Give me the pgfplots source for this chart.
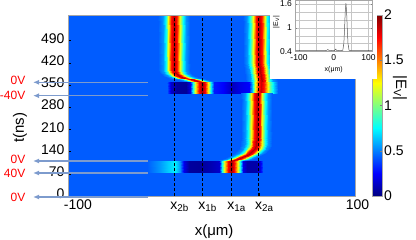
\documentclass[border=0pt]{standalone}
\usepackage{pgfplots}
\pgfplotsset{compat=1.18}
\usepackage{fontspec}
\setmainfont{Liberation Sans}
\usetikzlibrary{arrows.meta}
\definecolor{arrowblue}{RGB}{125,155,205}
\newcommand{\tickfont}{\fontsize{14}{14}\selectfont}
\newcommand{\labfont}{\fontsize{15}{15}\selectfont}
\begin{document}
\begin{tikzpicture}
\useasboundingbox (0pt,0pt) rectangle (416pt,-240pt);
\begin{axis}[
  at={(68pt,-196pt)}, anchor=south west,
  scale only axis, width=287pt, height=181pt,
  xmin=-100, xmax=100, ymin=0, ymax=570,
  enlargelimits=false,
  axis on top,
  colormap/jet, point meta min=0, point meta max=2,
  xtick={-100,-26,-6.6,13.6,33,100},
  xticklabels={\hspace{20pt}-100,\hspace{11pt}x\textsubscript{2b},\hspace{11pt}x\textsubscript{1b},\hspace{11pt}x\textsubscript{1a},\hspace{11pt}x\textsubscript{2a},\hspace{5pt}100},
  ytick={0,70,140,210,280,350,420,490},
  yticklabels={0,70,140,210,280,350,420,490},
  tick label style={font=\tickfont},
  typeset ticklabels with strut,
  xtick pos=bottom, ytick pos=left,
  tick align=inside, major tick length=3pt,
  tick style={black},
  axis line style={gray!70},
  xlabel={x(μm)}, ylabel={t(ns)},
  label style={font=\labfont},
  xlabel style={at={(axis description cs:0.509,-0.199)}, anchor=center},
  ylabel style={at={(axis description cs:-0.167,0.376)}, anchor=center},
]
% background
\addplot[surf, shader=interp, point meta=explicit, mesh/cols=2]
  table[row sep=\\, x=x, y=t, meta=v] {
x t v\\
-100 0 0.43\\ 100 0 0.43\\
-100 570 0.43\\ 100 570 0.43\\
};
% +40V band
\addplot[surf, shader=interp, point meta=explicit, mesh/cols=24]
  table[row sep=\\, x=x, y=t, meta=v] {
x t v\\
-100 73 0.43\\ -45 73 0.43\\ -36 73 0.55\\ -30 73 0.65\\ -25.5 73 0.72\\ -22 73 0.55\\ -19 73 0.2\\ -16 73 0.06\\ -8 73 0.05\\ 0 73 0.1\\ 5 73 0.15\\ 7.5 73 0.8\\ 9.5 73 1.35\\ 11.5 73 1.75\\ 13.6 73 1.95\\ 15.7 73 1.75\\ 17.7 73 1.35\\ 19.7 73 0.8\\ 22 73 0.2\\ 25 73 0.08\\ 31 73 0.08\\ 33.5 73 0.2\\ 36 73 0.43\\ 100 73 0.43\\
-100 111 0.43\\ -45 111 0.43\\ -36 111 0.55\\ -30 111 0.65\\ -25.5 111 0.72\\ -22 111 0.55\\ -19 111 0.2\\ -16 111 0.06\\ -8 111 0.05\\ 0 111 0.1\\ 5 111 0.15\\ 7.5 111 0.8\\ 9.5 111 1.35\\ 11.5 111 1.75\\ 13.6 111 1.95\\ 15.7 111 1.75\\ 17.7 111 1.35\\ 19.7 111 0.8\\ 22 111 0.2\\ 25 111 0.08\\ 31 111 0.08\\ 33.5 111 0.2\\ 36 111 0.43\\ 100 111 0.43\\
};
% -40V band
\addplot[surf, shader=interp, point meta=explicit, mesh/cols=28]
  table[row sep=\\, x=x, y=t, meta=v] {
x t v\\
-100 323 0.43\\ -31 323 0.43\\ -28 323 0.15\\ -24 323 0.06\\ -18 323 0.05\\ -15 323 0.2\\ -13 323 0.8\\ -11 323 1.35\\ -9 323 1.75\\ -6.6 323 1.95\\ -4.2 323 1.75\\ -2.2 323 1.3\\ -0.2 323 0.7\\ 2 323 0.3\\ 8 323 0.25\\ 14 323 0.12\\ 20 323 0.2\\ 26 323 0.25\\ 28.5 323 0.6\\ 30.5 323 1.2\\ 32.5 323 1.65\\ 34.5 323 1.85\\ 36.5 323 1.7\\ 38.5 323 1.35\\ 41 323 0.95\\ 43.5 323 0.65\\ 46 323 0.43\\ 100 323 0.43\\
-100 360 0.43\\ -31 360 0.43\\ -28 360 0.15\\ -24 360 0.06\\ -18 360 0.05\\ -15 360 0.2\\ -13 360 0.8\\ -11 360 1.35\\ -9 360 1.75\\ -6.6 360 1.95\\ -4.2 360 1.75\\ -2.2 360 1.3\\ -0.2 360 0.7\\ 2 360 0.3\\ 8 360 0.25\\ 14 360 0.12\\ 20 360 0.2\\ 26 360 0.25\\ 28.5 360 0.6\\ 30.5 360 1.2\\ 32.5 360 1.65\\ 34.5 360 1.85\\ 36.5 360 1.7\\ 38.5 360 1.35\\ 41 360 0.95\\ 43.5 360 0.65\\ 46 360 0.43\\ 100 360 0.43\\
};
% line x1a -> x2a (between pulses)
\addplot[surf, shader=interp, point meta=explicit, mesh/cols=11]
  table[row sep=\\, x=x, y=t, meta=v] {
x t v\\
2.6 111 0.43\\ 5.6 111 0.54\\ 7.6 111 0.78\\ 9.6 111 1.21\\ 11.6 111 1.7\\ 13.6 111 1.9\\ 15.6 111 1.7\\ 17.6 111 1.21\\ 19.6 111 0.78\\ 21.6 111 0.54\\ 24.6 111 0.43\\
4.5 114 0.43\\ 7.5 114 0.54\\ 9.5 114 0.78\\ 11.5 114 1.21\\ 13.5 114 1.7\\ 15.5 114 1.9\\ 17.5 114 1.7\\ 19.5 114 1.21\\ 21.5 114 0.78\\ 23.5 114 0.54\\ 26.5 114 0.43\\
7.5 118 0.43\\ 10.5 118 0.54\\ 12.5 118 0.78\\ 14.5 118 1.21\\ 16.5 118 1.7\\ 18.5 118 1.9\\ 20.5 118 1.7\\ 22.5 118 1.21\\ 24.5 118 0.78\\ 26.5 118 0.54\\ 29.5 118 0.43\\
10.5 123 0.43\\ 13.5 123 0.54\\ 15.5 123 0.78\\ 17.5 123 1.21\\ 19.5 123 1.7\\ 21.5 123 1.9\\ 23.5 123 1.7\\ 25.5 123 1.21\\ 27.5 123 0.78\\ 29.5 123 0.54\\ 32.5 123 0.43\\
13.5 129 0.43\\ 16.5 129 0.54\\ 18.5 129 0.78\\ 20.5 129 1.21\\ 22.5 129 1.7\\ 24.5 129 1.9\\ 26.5 129 1.7\\ 28.5 129 1.21\\ 30.5 129 0.78\\ 32.5 129 0.54\\ 35.5 129 0.43\\
16 136 0.43\\ 19 136 0.54\\ 21 136 0.78\\ 23 136 1.21\\ 25 136 1.7\\ 27 136 1.9\\ 29 136 1.7\\ 31 136 1.21\\ 33 136 0.78\\ 35 136 0.54\\ 38 136 0.43\\
18 144 0.43\\ 21 144 0.54\\ 23 144 0.78\\ 25 144 1.21\\ 27 144 1.7\\ 29 144 1.9\\ 31 144 1.7\\ 33 144 1.21\\ 35 144 0.78\\ 37 144 0.54\\ 40 144 0.43\\
19.3 152 0.43\\ 22.3 152 0.54\\ 24.3 152 0.78\\ 26.3 152 1.21\\ 28.3 152 1.7\\ 30.3 152 1.9\\ 32.3 152 1.7\\ 34.3 152 1.21\\ 36.3 152 0.78\\ 38.3 152 0.54\\ 41.3 152 0.43\\
20.2 165 0.43\\ 23.2 165 0.54\\ 25.2 165 0.78\\ 27.2 165 1.21\\ 29.2 165 1.7\\ 31.2 165 1.9\\ 33.2 165 1.7\\ 35.2 165 1.21\\ 37.2 165 0.78\\ 39.2 165 0.54\\ 42.2 165 0.43\\
20.5 185 0.43\\ 23.5 185 0.54\\ 25.5 185 0.78\\ 27.5 185 1.21\\ 29.5 185 1.7\\ 31.5 185 1.9\\ 33.5 185 1.7\\ 35.5 185 1.21\\ 37.5 185 0.78\\ 39.5 185 0.54\\ 42.5 185 0.43\\
20.5 323 0.43\\ 23.5 323 0.54\\ 25.5 323 0.78\\ 27.5 323 1.21\\ 29.5 323 1.7\\ 31.5 323 1.9\\ 33.5 323 1.7\\ 35.5 323 1.21\\ 37.5 323 0.78\\ 39.5 323 0.54\\ 42.5 323 0.43\\
};
% line at x2a after second pulse
\addplot[surf, shader=interp, point meta=explicit, mesh/cols=11]
  table[row sep=\\, x=x, y=t, meta=v] {
x t v\\
24 360 0.43\\ 27 360 0.54\\ 29 360 0.78\\ 31 360 1.21\\ 33 360 1.7\\ 35 360 1.9\\ 37 360 1.7\\ 39 360 1.21\\ 41 360 0.78\\ 43 360 0.54\\ 46 360 0.43\\
23.5 375 0.43\\ 26.5 375 0.54\\ 28.5 375 0.78\\ 30.5 375 1.21\\ 32.5 375 1.7\\ 34.5 375 1.9\\ 36.5 375 1.7\\ 38.5 375 1.21\\ 40.5 375 0.78\\ 42.5 375 0.54\\ 45.5 375 0.43\\
22.8 395 0.43\\ 25.8 395 0.54\\ 27.8 395 0.78\\ 29.8 395 1.21\\ 31.8 395 1.7\\ 33.8 395 1.9\\ 35.8 395 1.7\\ 37.8 395 1.21\\ 39.8 395 0.78\\ 41.8 395 0.54\\ 44.8 395 0.43\\
22 420 0.43\\ 25 420 0.54\\ 27 420 0.78\\ 29 420 1.21\\ 31 420 1.7\\ 33 420 1.9\\ 35 420 1.7\\ 37 420 1.21\\ 39 420 0.78\\ 41 420 0.54\\ 44 420 0.43\\
22 570 0.43\\ 25 570 0.54\\ 27 570 0.78\\ 29 570 1.21\\ 31 570 1.7\\ 33 570 1.9\\ 35 570 1.7\\ 37 570 1.21\\ 39 570 0.78\\ 41 570 0.54\\ 44 570 0.43\\
};
% line x1b -> x2b
\addplot[surf, shader=interp, point meta=explicit, mesh/cols=11]
  table[row sep=\\, x=x, y=t, meta=v] {
x t v\\
-17.6 360 0.43\\ -14.6 360 0.54\\ -12.6 360 0.78\\ -10.6 360 1.21\\ -8.6 360 1.7\\ -6.6 360 1.9\\ -4.6 360 1.7\\ -2.6 360 1.21\\ -0.6 360 0.78\\ 1.4 360 0.54\\ 4.4 360 0.43\\
-21 363 0.43\\ -18 363 0.54\\ -16 363 0.78\\ -14 363 1.21\\ -12 363 1.7\\ -10 363 1.9\\ -8 363 1.7\\ -6 363 1.21\\ -4 363 0.78\\ -2 363 0.54\\ 1 363 0.43\\
-25.5 367 0.43\\ -22.5 367 0.54\\ -20.5 367 0.78\\ -18.5 367 1.21\\ -16.5 367 1.7\\ -14.5 367 1.9\\ -12.5 367 1.7\\ -10.5 367 1.21\\ -8.5 367 0.78\\ -6.5 367 0.54\\ -3.5 367 0.43\\
-30 372 0.43\\ -27 372 0.54\\ -25 372 0.78\\ -23 372 1.21\\ -21 372 1.7\\ -19 372 1.9\\ -17 372 1.7\\ -15 372 1.21\\ -13 372 0.78\\ -11 372 0.54\\ -8 372 0.43\\
-33.5 378 0.43\\ -30.5 378 0.54\\ -28.5 378 0.78\\ -26.5 378 1.21\\ -24.5 378 1.7\\ -22.5 378 1.9\\ -20.5 378 1.7\\ -18.5 378 1.21\\ -16.5 378 0.78\\ -14.5 378 0.54\\ -11.5 378 0.43\\
-36 386 0.43\\ -33 386 0.54\\ -31 386 0.78\\ -29 386 1.21\\ -27 386 1.7\\ -25 386 1.9\\ -23 386 1.7\\ -21 386 1.21\\ -19 386 0.78\\ -17 386 0.54\\ -14 386 0.43\\
-37 396 0.43\\ -34 396 0.54\\ -32 396 0.78\\ -30 396 1.21\\ -28 396 1.7\\ -26 396 1.9\\ -24 396 1.7\\ -22 396 1.21\\ -20 396 0.78\\ -18 396 0.54\\ -15 396 0.43\\
-37 570 0.43\\ -34 570 0.54\\ -32 570 0.78\\ -30 570 1.21\\ -28 570 1.7\\ -26 570 1.9\\ -24 570 1.7\\ -22 570 1.21\\ -20 570 0.78\\ -18 570 0.54\\ -15 570 0.43\\
};
% dashed reference lines
\addplot[black, line width=0.9pt, dash pattern=on 3pt off 2pt] coordinates {(-26,0) (-26,570)};
\addplot[black, line width=0.9pt, dash pattern=on 3pt off 2pt] coordinates {(-6.6,0) (-6.6,570)};
\addplot[black, line width=0.9pt, dash pattern=on 3pt off 2pt] coordinates {(13.6,0) (13.6,570)};
\addplot[black, line width=0.9pt, dash pattern=on 3pt off 2pt] coordinates {(33,0) (33,570)};
\end{axis}

% colour scale
\begin{axis}[
  at={(372.3pt,-196pt)}, anchor=south west,
  scale only axis, width=9.4pt, height=181pt,
  xmin=0, xmax=1, ymin=0, ymax=2, enlargelimits=false,
  axis on top,
  colormap/jet, point meta min=0, point meta max=2,
  xtick=\empty,
  ytick={0,0.5,1,1.5,2}, yticklabels={0,0.5,1,1.5,2},
  ytick pos=right, yticklabel pos=right,
  yticklabel style={font=\tickfont, xshift=-1pt},
  tick align=inside, major tick length=2pt,
  axis line style={gray!70},
]
\addplot[surf, shader=interp, point meta=explicit, mesh/cols=2]
  table[row sep=\\, x=x, y=y, meta=v] {
x y v\\
0 0 0\\ 1 0 0\\
0 2 2\\ 1 2 2\\
};
\end{axis}

% white box behind inset
\fill[white] (270pt,0pt) rectangle (377pt,-79pt);

\begin{axis}[
  at={(295.5pt,-51.5pt)}, anchor=south west,
  scale only axis, width=76.5pt, height=51.5pt,
  xmin=-110, xmax=110, ymin=0.4, ymax=1.7,
  xtick={-100,0,100}, xticklabels={-100,0,100},
  ytick={0.4,1,1.6}, yticklabels={0.4,1,1.6},
  minor xtick={-50,50}, minor ytick={0.6,0.8,1.2,1.4},
  grid=both, grid style={gray!45, line width=0.3pt},
  minor grid style={gray!45, line width=0.3pt},
  tick label style={font=\fontsize{8.5}{8.5}\selectfont},
  tick align=inside, major tick length=1.5pt, minor tick length=0pt,
  axis line style={gray!70},
  xlabel={x(μm)}, ylabel={|E\textsubscript{V}|},
  label style={font=\fontsize{7}{7}\selectfont},
  xlabel style={at={(axis description cs:0.5,-0.36)}, anchor=center},
  ylabel style={at={(axis description cs:-0.25,0.57)}, anchor=center},
]
\addplot[gray!70!black, line width=0.5pt] coordinates {
(-110,0.42) (-80,0.42) (-50,0.42) (-30,0.42) (-20,0.43) (-17,0.45) (-14,0.43)
(0,0.42) (4,0.44) (6,0.46) (8,0.43) (20,0.42) (26,0.43) (29,0.6) (31,0.95)
(33,1.4) (35,1.62) (37,1.4) (39,0.95) (41,0.6) (44,0.43) (55,0.42) (80,0.42) (110,0.42)};
\end{axis}

\node[rotate=-90, font=\labfont] at (400pt,-88pt) {|E\textsubscript{V}|};

% voltage arrows and labels
\foreach \yy in {82.3,95.7,161,173,197} {
  \draw[arrowblue, line width=1.3pt, -{Latex[length=6pt,width=5pt]}] (148pt,-\yy pt) -- (33pt,-\yy pt);
}
\begin{scope}[every node/.style={anchor=east, text=red, font=\fontsize{12}{12}\selectfont, inner sep=0pt}]
\node at (25.5pt,-80pt) {0V};
\node at (25.5pt,-95.5pt) {-40V};
\node at (25.5pt,-159pt) {0V};
\node at (25.5pt,-173pt) {40V};
\node at (25.5pt,-197pt) {0V};
\end{scope}
\end{tikzpicture}
\end{document}
